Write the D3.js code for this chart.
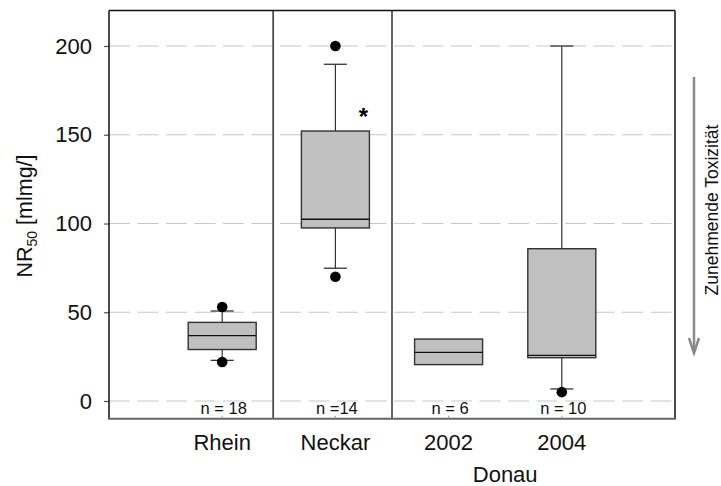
<!DOCTYPE html>
<html>
<head>
<meta charset="utf-8">
<script src="https://cdn.jsdelivr.net/npm/d3@7"></script>
<style>
  html, body { margin: 0; padding: 0; background: #fff; }
  svg { display: block; font-family: "Liberation Sans", Arial, sans-serif; }
</style>
</head>
<body>
<svg id="chart" width="721" height="486"></svg>
<script>
// ---- data ----
const categories = ["Rhein", "Neckar", "2002", "2004"];
const q1 = [29.0, 97.5, 20.5, 24.4];
const median = [36.8, 102.4, 27.4, 25.7];
const q3 = [44.3, 152.1, 34.9, 85.8];
const whiskerLow = [22.9, 74.8, null, 6.8];
const whiskerHigh = [50.7, 189.7, null, 200];
const outliers = [[53.0, 22.0], [200, 70.0], [], [5.0]];
const extremes = [[], [163], [], []];   // drawn as "*"
const nLabels = ["n = 18", "n =14", "n = 6", "n = 10"];
const yTicks = [0, 50, 100, 150, 200];
const groupLabel = "Donau";
const yLabelMain = "NR";
const yLabelSub = "50";
const yLabelRest = " [mlmg/]";
const arrowLabel = "Zunehmende Toxizität";
const separators = [1.45, 2.5];       // in group-index units

// ---- layout ----
const svg = d3.select("#chart");
const pLeft = 109, pRight = 675, pTop = 10.5, pBottom = 418.75;

const y = d3.scaleLinear().domain([-10, 220]).range([pBottom, pTop]);
const x = d3.scaleLinear().domain([0, 5]).range([pLeft, pRight]);
const cx = i => x(i + 1);
const boxW = 68, capW = 23;

// gridlines
svg.append("g").selectAll("line").data(yTicks).join("line")
  .attr("x1", pLeft).attr("x2", pRight)
  .attr("y1", d => y(d)).attr("y2", d => y(d))
  .attr("stroke", "#c8c8c8").attr("stroke-width", 1.2)
  .attr("stroke-dasharray", "21,7.5");

// y axis
const yAxis = svg.append("g").attr("transform", `translate(${pLeft},0)`)
  .call(d3.axisLeft(y).tickValues(yTicks).tickSize(5).tickPadding(12).tickSizeOuter(0));
yAxis.select(".domain").remove();
yAxis.selectAll(".tick line").attr("stroke", "#555").attr("stroke-width", 1.2);
yAxis.selectAll(".tick text").attr("font-size", 22).attr("fill", "#111")
  .attr("font-family", "Liberation Sans, Arial, sans-serif");

// frame
svg.append("line").attr("x1", pLeft).attr("x2", pLeft).attr("y1", pTop).attr("y2", pBottom)
  .attr("stroke", "#111").attr("stroke-width", 1.5);
svg.append("line").attr("x1", pLeft).attr("x2", pRight).attr("y1", pTop).attr("y2", pTop)
  .attr("stroke", "#111").attr("stroke-width", 1.5);
svg.append("line").attr("x1", pRight).attr("x2", pRight).attr("y1", pTop).attr("y2", pBottom)
  .attr("stroke", "#111").attr("stroke-width", 1.5);
svg.selectAll(".sep").data(separators).join("line").attr("class", "sep")
  .attr("x1", d => x(d)).attr("x2", d => x(d)).attr("y1", pTop).attr("y2", pBottom)
  .attr("stroke", "#111").attr("stroke-width", 1.3);

// bottom axis
const xAxisG = svg.append("g");
xAxisG.append("line").attr("x1", pLeft - 1).attr("x2", pRight + 1).attr("y1", pBottom).attr("y2", pBottom)
  .attr("stroke", "#666").attr("stroke-width", 2);
xAxisG.selectAll(".xt").data(categories).join("line").attr("class", "xt")
  .attr("x1", (d, i) => cx(i)).attr("x2", (d, i) => cx(i))
  .attr("y1", pBottom).attr("y2", pBottom - 3)
  .attr("stroke", "#999").attr("stroke-width", 1);

// boxes
const g = svg.append("g");
categories.forEach((c, i) => {
  const xc = cx(i);
  if (whiskerHigh[i] != null) {
    g.append("line").attr("x1", xc).attr("x2", xc).attr("y1", y(q3[i])).attr("y2", y(whiskerHigh[i]))
      .attr("stroke", "#333").attr("stroke-width", 1.2);
    g.append("line").attr("x1", xc - capW / 2).attr("x2", xc + capW / 2)
      .attr("y1", y(whiskerHigh[i])).attr("y2", y(whiskerHigh[i]))
      .attr("stroke", "#333").attr("stroke-width", 1.3);
  }
  if (whiskerLow[i] != null) {
    g.append("line").attr("x1", xc).attr("x2", xc).attr("y1", y(q1[i])).attr("y2", y(whiskerLow[i]))
      .attr("stroke", "#333").attr("stroke-width", 1.2);
    g.append("line").attr("x1", xc - capW / 2).attr("x2", xc + capW / 2)
      .attr("y1", y(whiskerLow[i])).attr("y2", y(whiskerLow[i]))
      .attr("stroke", "#333").attr("stroke-width", 1.3);
  }
  g.append("rect").attr("x", xc - boxW / 2).attr("width", boxW)
    .attr("y", y(q3[i])).attr("height", y(q1[i]) - y(q3[i]))
    .attr("fill", "#c0c0c0").attr("stroke", "#333").attr("stroke-width", 1.4);
  g.append("line").attr("x1", xc - boxW / 2).attr("x2", xc + boxW / 2)
    .attr("y1", y(median[i])).attr("y2", y(median[i]))
    .attr("stroke", "#111").attr("stroke-width", 1.3);
  g.selectAll(null).data(outliers[i]).join("circle")
    .attr("cx", xc).attr("cy", d => y(d)).attr("r", 5.3).attr("fill", "#000");
  g.selectAll(null).data(extremes[i]).join("text")
    .attr("x", xc + 28).attr("y", d => y(d) + 13.5)
    .attr("text-anchor", "middle").attr("font-size", 24).attr("font-weight", "bold")
    .attr("fill", "#000").text("*");
  // n labels
  g.append("text").attr("x", xc + 1.5).attr("y", 413.5).attr("text-anchor", "middle")
    .attr("font-size", 16.5).attr("fill", "#111").text(nLabels[i]);
  // category labels
  svg.append("text").attr("x", xc).attr("y", 450).attr("text-anchor", "middle")
    .attr("font-size", 22).attr("fill", "#111").text(c);
});

// group label
svg.append("text").attr("x", (cx(2) + cx(3)) / 2).attr("y", 481.5).attr("text-anchor", "middle")
  .attr("font-size", 22).attr("fill", "#111").text(groupLabel);

// y label
const yl = svg.append("text").attr("transform", "translate(32,216) rotate(-90)")
  .attr("text-anchor", "middle").attr("font-size", 21.5).attr("fill", "#111");
yl.append("tspan").text(yLabelMain);
yl.append("tspan").attr("font-size", 14).attr("dy", 5).text(yLabelSub);
yl.append("tspan").attr("dy", -5).text(yLabelRest);

// arrow
svg.append("line").attr("x1", 694).attr("x2", 694).attr("y1", 77).attr("y2", 352)
  .attr("stroke", "#8a8a8a").attr("stroke-width", 2.5);
svg.append("path").attr("d", "M689,338 L694,353 L699,338")
  .attr("fill", "none").attr("stroke", "#8a8a8a").attr("stroke-width", 2.5);
svg.append("text").attr("transform", "translate(717.5,210) rotate(-90)")
  .attr("text-anchor", "middle").attr("font-size", 17.5).attr("fill", "#111").text(arrowLabel);
</script>
</body>
</html>
